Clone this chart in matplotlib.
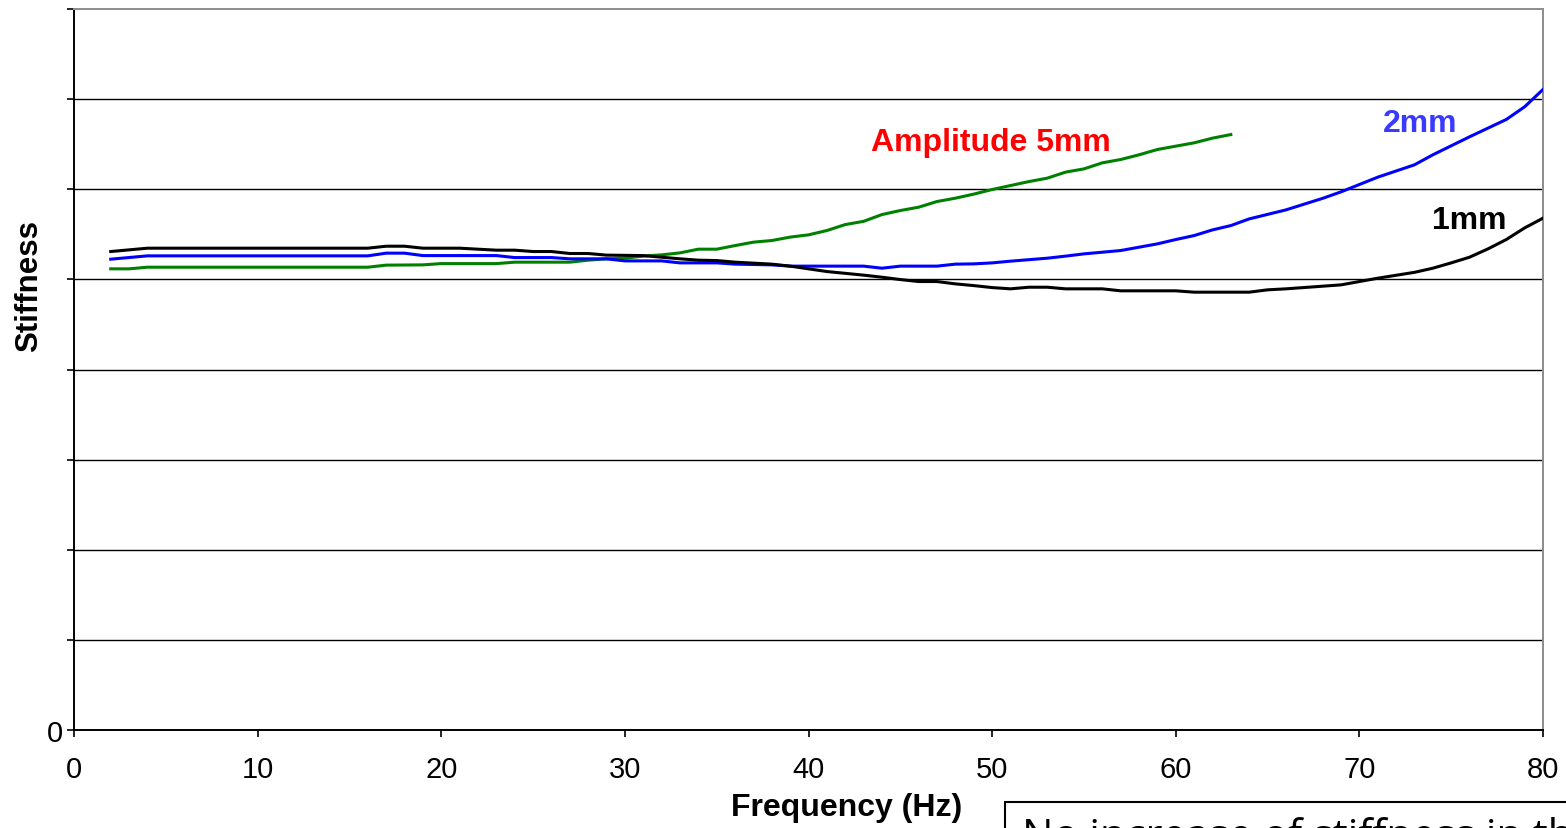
import matplotlib
matplotlib.use("Agg")
import matplotlib.pyplot as plt
from matplotlib.patches import Rectangle

plt.rcParams["font.family"] = ["Liberation Sans", "DejaVu Sans"]

# ---------------------------------------------------------------------------
# Data (stiffness, arbitrary units)
# ---------------------------------------------------------------------------
freq_1mm = [2, 4, 16, 17, 18, 19, 21, 23, 24, 25, 26, 27, 28, 29, 31, 32, 33,
            34, 35, 36, 38, 39, 41, 43, 44, 45, 46, 47, 48, 49, 50, 51, 52,
            53, 54, 56, 57, 60, 61, 64, 65, 66, 69, 71, 73, 74, 75, 76, 77,
            78, 79, 80]
stiff_1mm = [5.309, 5.346, 5.346, 5.368, 5.368, 5.346, 5.346, 5.324, 5.324,
             5.309, 5.309, 5.287, 5.287, 5.269, 5.264, 5.246, 5.228, 5.213,
             5.209, 5.191, 5.169, 5.147, 5.087, 5.047, 5.024, 4.998, 4.976,
             4.976, 4.950, 4.931, 4.909, 4.895, 4.913, 4.913, 4.895, 4.895,
             4.873, 4.873, 4.858, 4.858, 4.884, 4.895, 4.939, 5.013, 5.078,
             5.124, 5.183, 5.246, 5.338, 5.442, 5.571, 5.679]

freq_2mm = [2, 4, 16, 17, 18, 19, 23, 24, 26, 27, 29, 30, 32, 33, 35, 36, 38,
            39, 43, 44, 45, 47, 48, 49, 50, 51, 53, 54, 55, 57, 58, 59, 60,
            61, 62, 63, 64, 66, 68, 69, 71, 73, 74, 76, 78, 79, 80]
stiff_2mm = [5.224, 5.261, 5.261, 5.291, 5.291, 5.264, 5.264, 5.242, 5.242,
             5.228, 5.228, 5.205, 5.205, 5.183, 5.183, 5.169, 5.161, 5.147,
             5.147, 5.124, 5.147, 5.147, 5.169, 5.172, 5.183, 5.202, 5.235,
             5.258, 5.283, 5.320, 5.357, 5.394, 5.442, 5.486, 5.549, 5.597,
             5.671, 5.771, 5.899, 5.971, 6.134, 6.271, 6.382, 6.582, 6.774,
             6.915, 7.107]

freq_5mm = [2, 3, 4, 16, 17, 19, 20, 23, 24, 27, 28, 29, 30, 31, 32, 33, 34,
            35, 36, 37, 38, 39, 40, 41, 42, 43, 44, 45, 46, 47, 48, 49, 50,
            51, 52, 53, 54, 55, 56, 57, 58, 59, 60, 61, 62, 63]
stiff_5mm = [5.117, 5.117, 5.135, 5.135, 5.158, 5.161, 5.175, 5.175, 5.191,
             5.191, 5.213, 5.228, 5.235, 5.258, 5.272, 5.294, 5.335, 5.335,
             5.375, 5.413, 5.431, 5.469, 5.494, 5.542, 5.608, 5.644, 5.719,
             5.764, 5.801, 5.864, 5.901, 5.946, 5.997, 6.041, 6.085, 6.123,
             6.190, 6.226, 6.293, 6.330, 6.382, 6.441, 6.478, 6.515, 6.567,
             6.607]

x_ticks = [0, 10, 20, 30, 40, 50, 60, 70, 80]
y_ticks = [0, 1, 2, 3, 4, 5, 6, 7, 8]
y_tick_labels = ["0", "", "", "", "", "", "", "", ""]

# ---------------------------------------------------------------------------
# Figure
# ---------------------------------------------------------------------------
W, H = 1566, 829
fig = plt.figure(figsize=(W / 100, H / 100), dpi=100)
ax = fig.add_axes([74 / W, 1 - 731 / H, (1543 - 74) / W, (731 - 10) / H])

for g in y_ticks[1:-1]:
    ax.axhline(g, color="black", lw=1.0, zorder=1)

ax.plot(freq_5mm, stiff_5mm, color="#008000", lw=2.2, zorder=3)
ax.plot(freq_2mm, stiff_2mm, color="#0000FF", lw=2.2, zorder=3)
ax.plot(freq_1mm, stiff_1mm, color="black", lw=2.2, zorder=4)

ax.set_xlim(0, 80)
ax.set_ylim(0, 8)
ax.set_xticks(x_ticks)
ax.set_xticklabels([str(t) for t in x_ticks], fontsize=21)
ax.set_yticks(y_ticks)
ax.set_yticklabels(y_tick_labels, fontsize=21)
ax.tick_params(axis="both", direction="out", length=5, width=1.2, color="black")
ax.tick_params(axis="x", pad=13)
ax.tick_params(axis="y", pad=3)

ax.spines["left"].set_color("black")
ax.spines["bottom"].set_color("black")
ax.spines["left"].set_linewidth(1.4)
ax.spines["bottom"].set_linewidth(1.4)
for s in ("top", "right"):
    ax.spines[s].set_color("#8c8c8c")
    ax.spines[s].set_linewidth(1.4)

# axis titles (offset as in the original)
fig.text(847 / W, 1 - 808 / H, "Frequency (Hz)", ha="center", va="center",
         fontsize=23, fontweight="bold")
fig.text(29 / W, 1 - 286 / H, "Stiffness", ha="center", va="center",
         rotation=90, fontsize=22.5, fontweight="bold")

# series annotations
ax.text(49.95, 6.52, "Amplitude 5mm", color="#FF0000", fontsize=23,
        fontweight="bold", ha="center", va="center")
ax.text(73.3, 6.74, "2mm", color="#3A3AFF", fontsize=23,
        fontweight="bold", ha="center", va="center")
ax.text(76.0, 5.66, "1mm", color="black", fontsize=23,
        fontweight="bold", ha="center", va="center")

# cut-off note box at the lower right
fig.patches.append(Rectangle((1005 / W, -0.1), 0.5, (0.1 + 1 - 803 / H),
                             transform=fig.transFigure, fill=False,
                             edgecolor="black", lw=1.5))
fig.text(1022 / W, 1 - 817 / H, "No increase of stiffness in the",
         ha="left", va="top", fontsize=30, family=["Open Sans", "DejaVu Sans"])

fig.savefig("out.png", dpi=100)
plt.close(fig)
